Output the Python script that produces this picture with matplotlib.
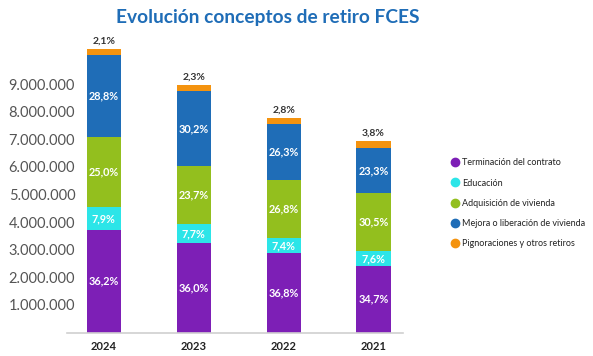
import matplotlib
matplotlib.use("Agg")
import matplotlib.pyplot as plt
from matplotlib.lines import Line2D
from matplotlib.ticker import FuncFormatter

# datos
anios = ["2024", "2023", "2022", "2021"]
totales = [10.27e6, 8.96e6, 7.78e6, 6.94e6]
conceptos = [
    "Terminación del contrato",
    "Educación",
    "Adquisición de vivienda",
    "Mejora o liberación de vivienda",
    "Pignoraciones y otros retiros",
]
pct_terminacion = [36.2, 36.0, 36.8, 34.7]
pct_educacion = [7.9, 7.7, 7.4, 7.6]
pct_adquisicion = [25.0, 23.7, 26.8, 30.5]
pct_mejora = [28.8, 30.2, 26.3, 23.3]
pct_pignoraciones = [2.1, 2.3, 2.8, 3.8]
ticks_y = [1e6, 2e6, 3e6, 4e6, 5e6, 6e6, 7e6, 8e6, 9e6]

colores = ["#7D1FB6", "#2CE5E8", "#93BF1E", "#1F6DB7", "#F4930F"]
series = [pct_terminacion, pct_educacion, pct_adquisicion, pct_mejora, pct_pignoraciones]

plt.rcParams["font.family"] = ["Lato", "DejaVu Sans"]

fig = plt.figure(figsize=(5.93, 3.56), dpi=100)
ax = fig.add_axes([0.113, 0.066, 0.567, 0.853])

x = list(range(len(anios)))
base = [0.0] * len(anios)
for i, (pcts, color) in enumerate(zip(series, colores)):
    alturas = [t * p / 100 for t, p in zip(totales, pcts)]
    ax.bar(x, alturas, bottom=base, width=0.38, color=color, label=conceptos[i])
    for j in x:
        txt = f"{pcts[j]:.1f}%".replace(".", ",")
        if i == len(series) - 1:
            ax.text(j, base[j] + alturas[j] + 1.2e5, txt, ha="center", va="bottom",
                    fontsize=7.5, fontweight="bold", color="#333333")
        else:
            ax.text(j, base[j] + alturas[j] / 2, txt, ha="center", va="center",
                    fontsize=7.8, fontweight="bold", color="white")
    base = [b + a for b, a in zip(base, alturas)]

ax.set_xlim(-0.41, 3.33)
ax.set_ylim(0, 11e6)
ax.set_xticks(x)
ax.set_xticklabels(anios, fontsize=8, fontweight="bold", color="#222222")
ax.set_yticks(ticks_y)
ax.yaxis.set_major_formatter(FuncFormatter(lambda v, p: f"{int(v):,}".replace(",", ".")))
ax.tick_params(axis="y", length=0, labelsize=10.5, labelcolor="#555555", pad=42)
for lbl in ax.get_yticklabels():
    lbl.set_horizontalalignment("left")
ax.tick_params(axis="x", length=0, pad=6)
for s in ["top", "right", "left"]:
    ax.spines[s].set_visible(False)
ax.spines["bottom"].set_color("#d0d0d0")
ax.spines["bottom"].set_linewidth(1.2)

fig.text(0.452, 0.952, "Evolución conceptos de retiro FCES", ha="center", va="center",
         fontsize=13.8, fontweight="bold", color="#1F6DB7")

handles = [Line2D([], [], marker="o", linestyle="", markersize=6, color=c) for c in colores]
fig.legend(handles, conceptos, loc="upper left", bbox_to_anchor=(0.745, 0.578),
           frameon=False, fontsize=6.5, labelspacing=1.25, handletextpad=0.1,
           handlelength=1.2, labelcolor="#222222")

plt.savefig("out.png", dpi=100)
plt.close()
